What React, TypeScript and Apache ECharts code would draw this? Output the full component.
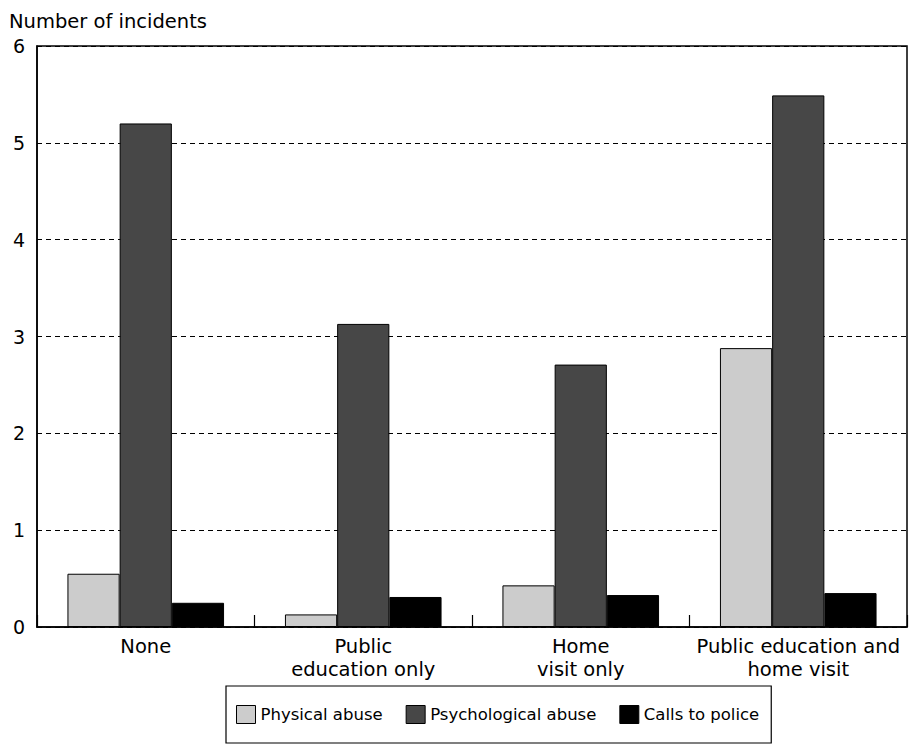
import React, { useEffect, useRef } from "react";
import * as echarts from "echarts";

const categories = ["None", "Public\neducation only", "Home\nvisit only", "Public education and\nhome visit"];
const physicalAbuse = [0.55, 0.13, 0.43, 2.88];
const psychologicalAbuse = [5.2, 3.13, 2.71, 5.49];
const callsToPolice = [0.25, 0.31, 0.33, 0.35];
const yTicks = [0, 1, 2, 3, 4, 5, 6];
const seriesNames = ["Physical abuse", "Psychological abuse", "Calls to police"];

const FONT = "DejaVu Sans";

export default function App() {
  const ref = useRef<HTMLDivElement>(null);
  useEffect(() => {
    document.body.style.margin = "0";
    const chart = echarts.init(ref.current!, null, { renderer: "svg" });
    const barStyle = (color: string) => ({ color, borderColor: "#000", borderWidth: 1 });
    chart.setOption({
      animation: false,
      backgroundColor: "#fff",
      textStyle: { fontFamily: FONT, color: "#000" },
      title: {
        text: "Number of incidents",
        left: 4,
        top: 6,
        textStyle: { fontFamily: FONT, fontSize: 19.5, fontWeight: "normal", color: "#000" },
      },
      grid: {
        left: 37,
        right: 17,
        top: 46,
        bottom: 129,
        show: true,
        borderColor: "#000",
        borderWidth: 1.5,
        containLabel: false,
      },
      legend: {
        data: seriesNames,
        left: 226,
        top: 686,
        orient: "horizontal",
        itemWidth: 19,
        itemHeight: 18,
        itemGap: 23,
        icon: "rect",
        borderColor: "#000",
        borderWidth: 1.2,
        padding: [19, 12, 19, 10],
        textStyle: { fontFamily: FONT, fontSize: 16.5, color: "#000" },
        itemStyle: { borderColor: "#000", borderWidth: 1 },
      },
      xAxis: {
        type: "category",
        data: categories,
        axisLine: { show: true, lineStyle: { color: "#000", width: 1.5 } },
        axisTick: { show: true, inside: true, length: 12, lineStyle: { color: "#000", width: 1.2 } },
        axisLabel: {
          interval: 0,
          fontFamily: FONT,
          fontSize: 19.5,
          color: "#000",
          lineHeight: 23,
          margin: 8,
        },
      },
      yAxis: {
        type: "value",
        min: yTicks[0],
        max: yTicks[yTicks.length - 1],
        interval: 1,
        axisLine: { show: true, lineStyle: { color: "#000", width: 1.5 } },
        axisTick: { show: false },
        axisLabel: { fontFamily: FONT, fontSize: 19, color: "#000", margin: 12 },
        splitLine: { show: true, lineStyle: { color: "#000", type: [5, 4], width: 1.2 } },
      },
      series: [
        {
          name: seriesNames[0],
          type: "bar",
          data: physicalAbuse,
          barCategoryGap: "28%",
          barGap: "0%",
          itemStyle: barStyle("#cccccc"),
        },
        {
          name: seriesNames[1],
          type: "bar",
          data: psychologicalAbuse,
          barGap: "0%",
          itemStyle: barStyle("#474747"),
        },
        {
          name: seriesNames[2],
          type: "bar",
          data: callsToPolice,
          barGap: "0%",
          itemStyle: barStyle("#000000"),
        },
      ],
    });
    return () => chart.dispose();
  }, []);
  return <div ref={ref} style={{ width: 924, height: 756 }} />;
}
